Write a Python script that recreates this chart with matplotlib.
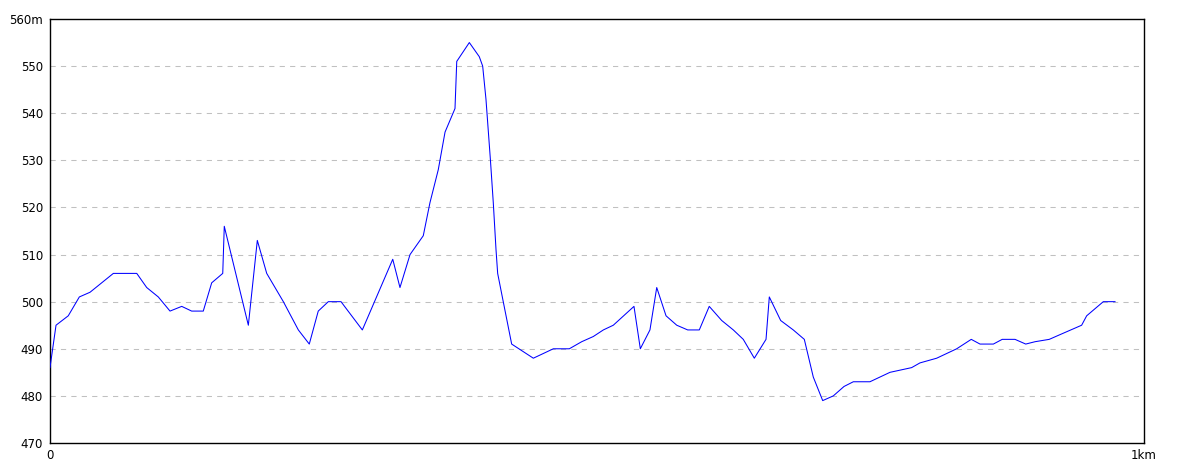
import matplotlib
matplotlib.use("Agg")
import matplotlib.pyplot as plt

# distance along route (m) and elevation (m)
distance_m = [0, 5.5, 16.7, 26.8, 36.6, 57.9, 79.3, 88.4, 99.0, 109.7, 120.4, 129.5,
              140.1, 147.8, 157.9, 159.3, 181.3, 189.5, 198.1, 213.3, 227.0, 237.0,
              245.2, 254.4, 266.0, 285.5, 313.3, 319.9, 329.1, 341.2, 347.3, 354.9,
              361.1, 370.2, 371.8, 383.3, 392.4, 395.5, 398.5, 402.6, 405.2, 407.7,
              409.2, 414.3, 422.0, 441.8, 460.1, 474.7, 486.0, 496.6, 505.8, 514.9,
              533.8, 539.6, 548.4, 554.6, 563.1, 572.9, 582.9, 593.5, 602.6, 614.0,
              624.6, 633.7, 643.8, 654.5, 657.5, 667.9, 679.4, 689.5, 697.7, 706.3,
              716.0, 725.8, 734.3, 749.5, 767.8, 787.6, 795.2, 810.5, 828.8, 842.1,
              850.1, 862.3, 870.4, 882.1, 891.9, 900.4, 913.4, 923.2, 943.0, 947.6,
              962.8, 973.5]
elevation_m = [486, 495, 497, 501, 502, 506, 506, 503, 501, 498, 499, 498,
               498, 504, 506, 516, 495, 513, 506, 500, 494, 491,
               498, 500, 500, 494, 509, 503, 510, 514, 521, 528,
               536, 541, 551, 555, 552, 550, 543, 530, 521, 511,
               506, 500, 491, 488, 490, 490, 491.5, 492.6, 494, 495,
               499, 490, 494, 503, 497, 495, 494, 494, 499, 496,
               494, 492, 488, 492, 501, 496, 494, 492, 484, 479,
               480, 482, 483, 483, 485, 486, 487, 488, 490, 492,
               491, 491, 492, 492, 491, 491.5, 492, 493, 495, 497,
               500, 500]

y_ticks = [470, 480, 490, 500, 510, 520, 530, 540, 550, 560]
y_tick_labels = ["470", "480", "490", "500", "510", "520", "530", "540", "550", "560m"]
x_ticks = [0, 1000]
x_tick_labels = ["0", "1km"]

W, H = 1184, 473
fig = plt.figure(figsize=(W / 100, H / 100), dpi=100)
ax = fig.add_axes([50 / W, (H - 443) / H, 1094 / W, 424 / H])

ax.plot(distance_m, elevation_m, color="#0000FF", linewidth=0.75, antialiased=True, zorder=3)

ax.set_xlim(0, 1000)
ax.set_ylim(470, 560)
ax.set_yticks(y_ticks)
ax.set_yticklabels(y_tick_labels)
ax.set_xticks(x_ticks)
ax.set_xticklabels(x_tick_labels)

for v in y_ticks[1:-1]:
    ax.axhline(v, color="#C0C0C0", linewidth=0.75, linestyle=(0, (5, 5)), zorder=1)

ax.tick_params(axis="both", length=0, labelsize=8.5, colors="black")
ax.tick_params(axis="y", pad=5)
ax.tick_params(axis="x", pad=4)
for s in ax.spines.values():
    s.set_color("black")
    s.set_linewidth(1.0)

fig.savefig("out.png", dpi=100, facecolor="white")
